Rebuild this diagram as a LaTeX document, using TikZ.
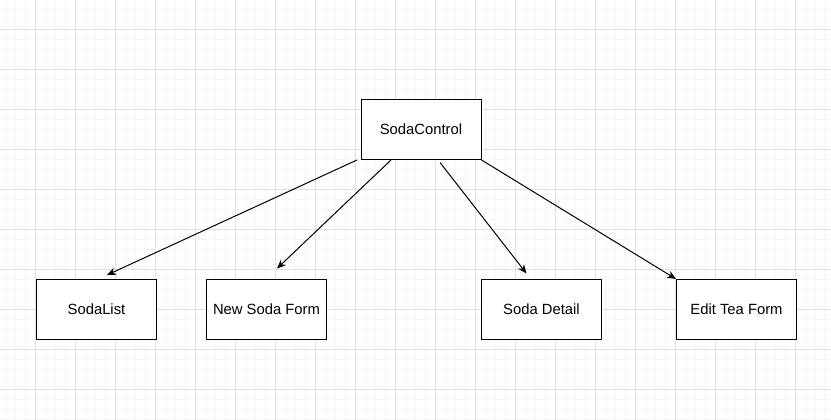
\documentclass[tikz,border=0pt]{standalone}
\usepackage{fontspec}
\setmainfont{Liberation Sans}
\usetikzlibrary{arrows.meta}
\definecolor{gridminor}{RGB}{246,246,246}
\definecolor{gridmajor}{RGB}{224,224,224}
\tikzset{
  box/.style={draw=black, line width=1pt, fill=white, minimum width=120pt, minimum height=60pt, inner sep=0pt, font=\fontsize{14.8}{18}\selectfont},
  link/.style={draw=black, line width=1pt, -{Stealth[length=9pt,width=7.5pt]}},
  minorline/.style={draw=gridminor, line width=1pt},
  majorline/.style={draw=gridmajor, line width=1pt}
}
\begin{document}
\begin{tikzpicture}[x=1pt,y=-1pt]
\useasboundingbox (0,0) rectangle (831,420);
\fill[white] (0,0) rectangle (831,420);
\foreach \x in {5.5,15.5,...,825.5} \draw[minorline] (\x,0) -- (\x,420);
\foreach \y in {9.5,19.5,...,419.5} \draw[minorline] (0,\y) -- (831,\y);
\foreach \x in {35.5,75.5,...,795.5} \draw[majorline] (\x,0) -- (\x,420);
\foreach \y in {29.5,69.5,...,389.5} \draw[majorline] (0,\y) -- (831,\y);

\node[box] (ctrl) at (421,129.5) {SodaControl};
\node[box] (list) at (96.5,309.5) {SodaList};
\node[box] (new) at (266.5,309.5) {New Soda Form};
\node[box] (detail) at (541.5,309.5) {Soda Detail};
\node[box] (edit) at (736.5,309.5) {Edit Tea Form};

\coordinate (s1) at (357,160);
\coordinate (e1) at (107,275);
\coordinate (s2) at (391,160);
\coordinate (e2) at (277,268.5);
\coordinate (s3) at (440,162.5);
\coordinate (e3) at (526.5,273.5);

\draw[link] (s1) -- (e1);
\draw[link] (s2) -- (e2);
\draw[link] (s3) -- (e3);
\draw[link] (ctrl.south east) -- (edit.north west);
\end{tikzpicture}
\end{document}
